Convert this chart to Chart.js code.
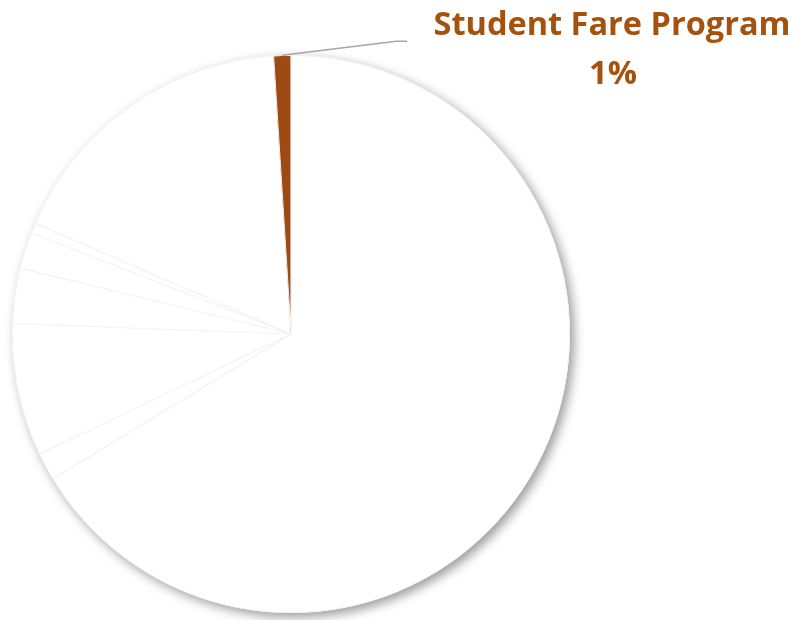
<!DOCTYPE html>
<html>
<head>
<meta charset="utf-8">
<script src="https://cdn.jsdelivr.net/npm/chart.js@4/dist/chart.umd.min.js"></script>
<style>
  html, body { margin: 0; padding: 0; background: #fff; }
  #wrap { width: 795px; height: 620px; position: relative; }
</style>
</head>
<body>
<div id="wrap"><canvas id="pieChart"></canvas></div>
<script>
// shares, clockwise from 12 o'clock
const categories = ['Slice 1', 'Slice 2', 'Slice 3', 'Slice 4', 'Slice 5', 'Slice 6', 'Slice 7', 'Student Fare Program'];
const shares = [66.3, 1.6, 7.7, 3.2, 2.1, 0.6, 17.5, 1.0];
const sliceColors = ['#ffffff', '#ffffff', '#ffffff', '#ffffff', '#ffffff', '#ffffff', '#ffffff', '#9e4a13'];
const labelledIndex = 7;

// soft drop shadow behind the whole pie
const pieShadow = {
    id: 'pieShadow',
    beforeDatasetsDraw(chart) {
        const arc = chart.getDatasetMeta(0).data[0];
        if (!arc) return;
        const ctx = chart.ctx;
        ctx.save();
        ctx.shadowColor = 'rgba(0,0,0,0.4)';
        ctx.shadowBlur = 11;
        ctx.shadowOffsetX = 4;
        ctx.shadowOffsetY = 4;
        ctx.fillStyle = '#ffffff';
        ctx.beginPath();
        ctx.arc(arc.x, arc.y, arc.outerRadius, 0, Math.PI * 2);
        ctx.fill();
        ctx.restore();
    }
};

// callout for the highlighted slice
const callout = {
    id: 'callout',
    afterDatasetsDraw(chart) {
        const arc = chart.getDatasetMeta(0).data[labelledIndex];
        if (!arc) return;
        const ctx = chart.ctx;
        const mid = (arc.startAngle + arc.endAngle) / 2;
        const sx = arc.x + Math.cos(mid) * arc.outerRadius;
        const sy = arc.y + Math.sin(mid) * arc.outerRadius;
        ctx.save();
        ctx.strokeStyle = '#a6a6a6';
        ctx.lineWidth = 1.5;
        ctx.beginPath();
        ctx.moveTo(sx, sy);
        ctx.lineTo(sx + 114, sy - 14);
        ctx.lineTo(sx + 125, sy - 14);
        ctx.stroke();

        const total = shares.reduce((a, b) => a + b, 0);
        const pct = Math.round(shares[labelledIndex] / total * 100) + '%';
        ctx.fillStyle = '#a5520f';
        ctx.font = 'bold 32.5px "Open Sans", sans-serif';
        ctx.textAlign = 'center';
        ctx.textBaseline = 'alphabetic';
        ctx.fillText(categories[labelledIndex], 612, 35);
        ctx.fillText(pct, 613, 84);
        ctx.restore();
    }
};

new Chart(document.getElementById('pieChart'), {
    type: 'pie',
    data: {
        labels: categories,
        datasets: [{
            data: shares,
            backgroundColor: sliceColors,
            borderColor: '#f2f2f2',
            borderWidth: 0.6,
            borderAlign: 'inner'
        }]
    },
    options: {
        responsive: true,
        maintainAspectRatio: false,
        animation: false,
        layout: {
            padding: { left: 12, top: 55, right: 225, bottom: 7 }
        },
        plugins: {
            legend: { display: false },
            tooltip: { enabled: false }
        }
    },
    plugins: [pieShadow, callout]
});
</script>
</body>
</html>
